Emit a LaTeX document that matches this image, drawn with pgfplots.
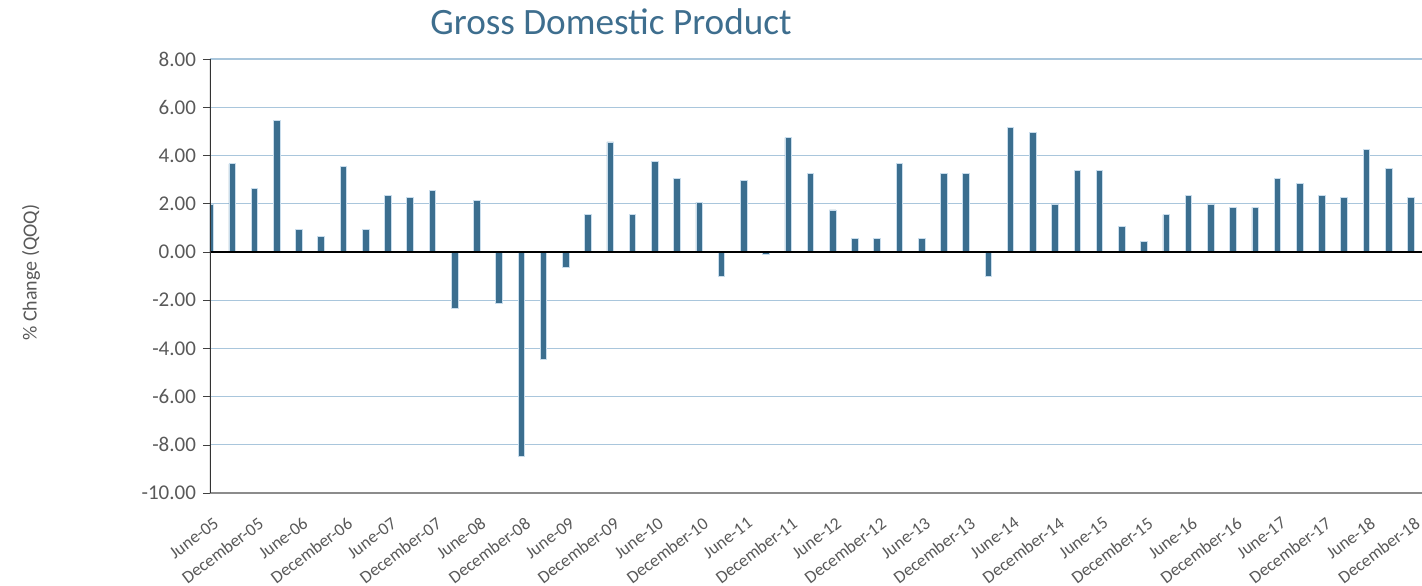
\documentclass[border=0pt]{standalone}
\usepackage{pgfplots}
\pgfplotsset{compat=1.18}
\usepackage{pgfplotstable}
\usepackage{fontspec}
\setmainfont{Carlito}

\definecolor{barblue}{HTML}{3B6E8F}
\definecolor{baredge}{HTML}{C9DDEC}
\definecolor{gridblue}{HTML}{A9C6DC}
\definecolor{titleblue}{HTML}{3E6E8E}
\definecolor{labelgray}{HTML}{595959}

% quarterly GDP change, index 0 = June-05 ... 54 = December-18
\pgfplotstableread{
q val
0 1.96
1 3.65
2 2.64
3 5.44
4 0.94
5 0.65
6 3.54
7 0.94
8 2.35
9 2.24
10 2.54
11 -2.33
12 2.15
13 -2.13
14 -8.47
15 -4.44
16 -0.63
17 1.54
18 4.56
19 1.54
20 3.75
21 3.04
22 2.05
23 -1.02
24 2.96
25 -0.11
26 4.74
27 3.24
28 1.74
29 0.54
30 0.54
31 3.65
32 0.54
33 3.24
34 3.24
35 -1.02
36 5.15
37 4.97
38 1.96
39 3.36
40 3.36
41 1.06
42 0.44
43 1.55
44 2.35
45 1.96
46 1.85
47 1.85
48 3.04
49 2.85
50 2.35
51 2.24
52 4.25
53 3.46
54 2.24
}\gdp

\begin{document}
\begin{tikzpicture}
\begin{axis}[
    scale only axis,
    width=606pt, height=217pt,
    xmin=0, xmax=54.5,
    ymin=-10, ymax=8,
    ytick={-10,-8,...,8},
    xtick={0,2,...,54},
    xticklabels={June-05,December-05,June-06,December-06,June-07,December-07,
        June-08,December-08,June-09,December-09,June-10,December-10,
        June-11,December-11,June-12,December-12,June-13,December-13,
        June-14,December-14,June-15,December-15,June-16,December-16,
        June-17,December-17,June-18,December-18},
    axis x line*=bottom,
    axis y line*=left,
    x axis line style={-, draw=gray!90},
    y axis line style={-, draw=black!80},
    xtick style={draw=none},
    ytick style={draw=black!75},
    tick align=outside,
    major tick length=3.5pt,
    ymajorgrids,
    grid style={draw=gridblue, line width=0.6pt},
    /pgf/number format/assume math mode=true,
    yticklabel style={/pgf/number format/fixed, /pgf/number format/fixed zerofill,
        /pgf/number format/precision=2,
        font=\fontsize{10.5}{12}\selectfont, text=labelgray},
    xticklabel style={font=\fontsize{8.8}{10}\selectfont, text=labelgray,
        yshift=-8pt, xshift=1.5pt, rotate=37, anchor=north east, inner sep=0pt},
    ybar, bar width=3.3pt,
]
\addplot[fill=barblue, draw=baredge, line width=0.4pt] table[x=q, y=val] {\gdp};
\draw[black, line width=0.7pt] (axis cs:0,0) -- (axis cs:54.5,0);
\draw[gray!90, line width=0.6pt] (axis cs:0,-10) -- (axis cs:54.5,-10);
\draw[black!80, line width=0.6pt] (axis cs:0,-10) -- (axis cs:0,8);
\end{axis}
\node[anchor=base west, inner sep=0pt, text=titleblue,
      font=\fontsize{18.6}{20}\selectfont]
    at ([xshift=110pt, yshift=12pt]current axis.north west) {Gross Domestic Product};
\node[rotate=90, anchor=center, inner sep=0pt, text=labelgray,
      font=\fontsize{10}{12}\selectfont]
    at ([xshift=-89.5pt, yshift=110.25pt]current axis.south west) {\% Change (QOQ)};
\pgfresetboundingbox
\path ([xshift=-105pt, yshift=-46.5pt]current axis.south west)
    rectangle ([yshift=29.5pt]current axis.north east);
\end{tikzpicture}
\end{document}
